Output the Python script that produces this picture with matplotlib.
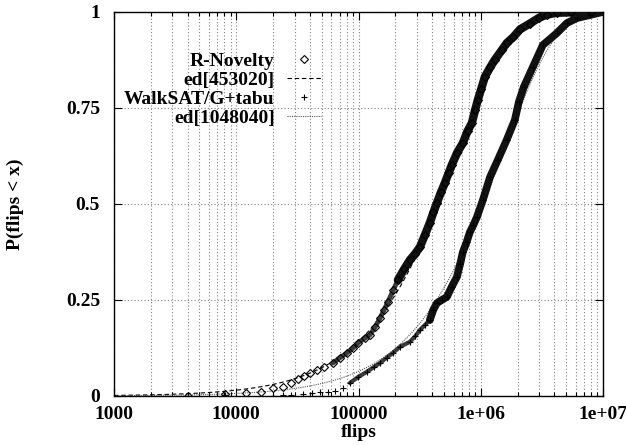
import numpy as np
import matplotlib
matplotlib.use("Agg")
import matplotlib.pyplot as plt
from matplotlib.ticker import LogLocator, FixedLocator, NullFormatter, FixedFormatter

plt.rcParams['font.family'] = ['Liberation Serif', 'DejaVu Serif']
plt.rcParams['font.weight'] = 'bold'

# R-Novelty empirical run-length distribution (flips, P)
rn_flips = [4030, 8090, 12000, 15900, 20000, 24100, 28000, 31900, 35800, 40100,
            45700, 52000, 61800, 70000, 80400, 90000, 98900, 112000, 124000, 137000,
            150000, 162000, 174000, 192000, 210000, 236000, 263000, 290000, 318000, 350000,
            383000, 410000, 438000, 472000, 509000, 545000, 580000, 640000, 714000, 780000,
            846000, 900000, 946000, 1010000, 1080000, 1200000, 1300000, 1480000, 1630000, 1850000,
            2100000, 2520000, 3000000, 3470000, 4200000, 5500000, 8000000]
rn_p = [0.0, 0.005, 0.009, 0.010, 0.021, 0.023, 0.034, 0.044, 0.052, 0.060,
        0.068, 0.076, 0.086, 0.099, 0.112, 0.125, 0.138, 0.150, 0.159, 0.180,
        0.203, 0.224, 0.245, 0.275, 0.302, 0.330, 0.354, 0.370, 0.388, 0.420,
        0.451, 0.478, 0.503, 0.530, 0.555, 0.580, 0.602, 0.633, 0.659, 0.690,
        0.711, 0.745, 0.771, 0.800, 0.831, 0.857, 0.875, 0.900, 0.919, 0.935,
        0.955, 0.970, 0.985, 0.993, 0.998, 0.999, 1.0]

# WalkSAT/G+tabu empirical run-length distribution (flips, P)
ws_flips = [8100, 20000, 24000, 28000, 35000, 42000, 48300, 56000, 64100, 74500,
            85100, 98900, 117000, 133000, 150000, 170000, 191000, 218000, 263000, 290000,
            318000, 350000, 383000, 410000, 438000, 480000, 528000, 580000, 638000, 680000,
            714000, 765000, 815000, 870000, 930000, 1040000, 1190000, 1380000, 1630000, 1900000,
            2050000, 2250000, 2670000, 3220000, 4190000, 5060000, 6110000, 7800000, 9950000]
ws_p = [0.003, 0.001, 0.002, 0.002, 0.004, 0.008, 0.010, 0.011, 0.013, 0.021,
        0.034, 0.049, 0.063, 0.075, 0.086, 0.100, 0.112, 0.128, 0.141, 0.155,
        0.172, 0.185, 0.198, 0.225, 0.242, 0.250, 0.258, 0.285, 0.310, 0.345,
        0.375, 0.400, 0.427, 0.445, 0.466, 0.510, 0.570, 0.615, 0.667, 0.719,
        0.766, 0.805, 0.857, 0.914, 0.945, 0.971, 0.984, 0.992, 1.0]

# exponential distributions ed[m]: median m
ed_medians = [453020, 1048040]
ed_labels = ['ed[453020]', 'ed[1048040]']

xticks = [1000, 10000, 100000, 1000000, 10000000]
xticklabels = ['1000', '10000', '100000', '1e+06', '1e+07']
yticks = [0, 0.25, 0.5, 0.75, 1]
yticklabels = ['0', '0.25', '0.5', '0.75', '1']

FS = 14

fig = plt.figure(figsize=(6.26, 4.45), dpi=100)
ax = fig.add_axes([114/626, 49/445, (603-114)/626, (396-12)/445])

rn_flips = np.array(rn_flips); rn_p = np.array(rn_p)
ws_flips = np.array(ws_flips); ws_p = np.array(ws_p)

# dense bands formed by overlapping markers
m1 = (rn_p >= 0.08) & (rn_p <= 0.31)
m2 = rn_p >= 0.30
ax.plot(rn_flips[m1], rn_p[m1], color='#3a3a3a', lw=3.5,
        solid_capstyle='round', zorder=3)
ax.plot(rn_flips[m2], rn_p[m2], color='#111111', lw=6,
        solid_capstyle='round', zorder=3)
w1 = (ws_p >= 0.03) & (ws_p <= 0.20)
w2 = ws_p >= 0.19
ax.plot(ws_flips[w1], ws_p[w1], color='#3a3a3a', lw=3,
        solid_capstyle='round', zorder=3)
ax.plot(ws_flips[w2], ws_p[w2], color='#111111', lw=5.5,
        solid_capstyle='round', zorder=3)

xs = np.logspace(3, 7, 600)
h_rn, = ax.plot(rn_flips, rn_p, ls='none', marker='D', ms=4, mfc='none',
                mec='black', mew=0.8, label='R-Novelty', zorder=4)
h_ed1, = ax.plot(xs, 1 - 2.0 ** (-xs / ed_medians[0]), color='black', lw=0.8,
                 ls=(0, (4, 2.5)), label=ed_labels[0], zorder=2)
h_ws, = ax.plot(ws_flips, ws_p, ls='none', marker='+', ms=5, mec='black',
                mew=0.8, label='WalkSAT/G+tabu', zorder=4)
h_ed2, = ax.plot(xs, 1 - 2.0 ** (-xs / ed_medians[1]), color='#555555', lw=0.8,
                 ls=(0, (1, 1)), label=ed_labels[1], zorder=2)

ax.set_xscale('log')
ax.set_xlim(1000, 1e7)
ax.set_ylim(0, 1)
ax.xaxis.set_major_locator(FixedLocator(xticks))
ax.xaxis.set_major_formatter(FixedFormatter(xticklabels))
ax.xaxis.set_minor_locator(LogLocator(base=10, subs=np.arange(2, 10)))
ax.xaxis.set_minor_formatter(NullFormatter())
ax.yaxis.set_major_locator(FixedLocator(yticks))
ax.yaxis.set_major_formatter(FixedFormatter(yticklabels))

ax.grid(True, which='major', color='#808080', ls=(0, (1, 2)), lw=0.8)
ax.grid(True, which='minor', axis='x', color='#808080', ls=(0, (1, 2)), lw=0.8)
ax.set_axisbelow(True)

ax.tick_params(which='both', direction='in', top=True, right=True, labelsize=FS)
ax.tick_params(which='major', length=6, width=0.8, pad=10)
ax.tick_params(which='minor', length=3, width=0.8)
ax.tick_params(axis='x', which='major', pad=7)
for sp in ax.spines.values():
    sp.set_linewidth(1.0)

ax.set_xlabel('flips', fontsize=FS, fontweight='bold', labelpad=1)
ax.set_ylabel('P(flips < x)', fontsize=FS, fontweight='bold', labelpad=30)

leg = ax.legend(handles=[h_rn, h_ed1, h_ws, h_ed2], markerfirst=False, frameon=False,
                loc='upper right', bbox_to_anchor=(0.44, 0.915), fontsize=FS,
                handlelength=1.75, handletextpad=0.65, labelspacing=0.07,
                borderaxespad=0, numpoints=1)

fig.savefig('out.png', dpi=100)
